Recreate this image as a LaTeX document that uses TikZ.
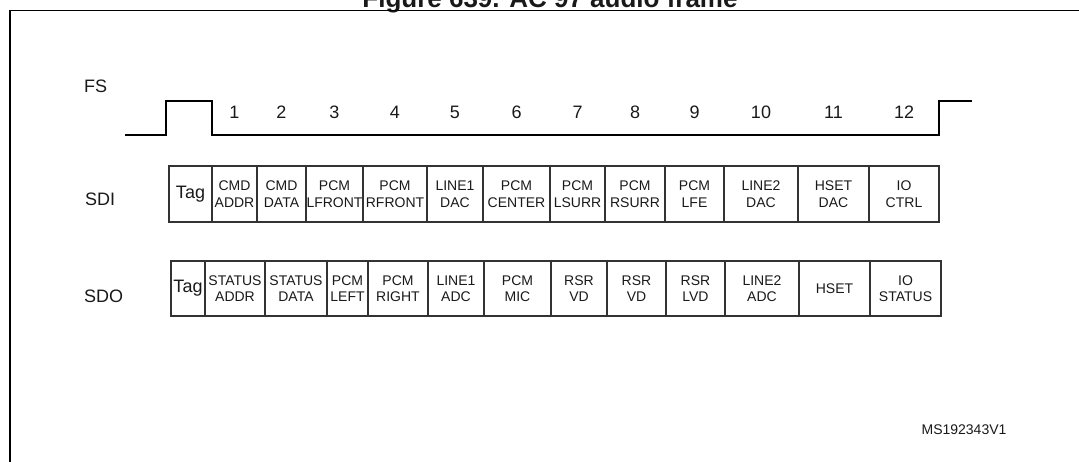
\documentclass[tikz,border=0pt]{standalone}
\usepackage{fontspec}
\setmainfont{Liberation Sans}
\usetikzlibrary{positioning}

\begin{document}
\begin{tikzpicture}[x=1pt,y=-1pt,node distance=0pt]

	\tikzstyle{every node}=[font=\fontsize{14}{16.5}\selectfont,text=black!90]
	\tikzstyle{slot}=[rectangle,draw=black!80,line width=1.2pt,minimum height=56pt,inner sep=0pt,outer sep=0pt,align=center]
	\tikzstyle{tag slot}=[slot,font=\fontsize{18}{20}\selectfont]
	\tikzstyle{signal}=[font=\fontsize{18}{20}\selectfont,anchor=west,inner sep=0pt]
	\tikzstyle{slot number}=[font=\fontsize{18}{20}\selectfont,inner sep=0pt]

	\useasboundingbox (0,0) rectangle (1079,461);

	% title and outer frame (cut by the page)
	\node[font=\bfseries\fontsize{26}{28}\selectfont,anchor=base,inner sep=0pt] (title) at (550,7.5) {Figure 639. AC'97 audio frame};
	\draw[line width=1.8pt] (10,480) |- (1100,10.5);

	% signal names
	\node[signal] (FS)  at (84,86)  {FS};
	\node[signal] (SDI) at (85,199) {SDI};
	\node[signal] (SDO) at (84,296) {SDO};

	% SDI slots
	\node[tag slot,minimum width=43pt,anchor=west] (i0) at (169,194) {Tag};
	\node[slot,minimum width=45pt,right=of i0]  (i1)  {CMD\\ADDR};
	\node[slot,minimum width=49pt,right=of i1]  (i2)  {CMD\\DATA};
	\node[slot,minimum width=57pt,right=of i2]  (i3)  {PCM\\LFRONT};
	\node[slot,minimum width=64pt,right=of i3]  (i4)  {PCM\\RFRONT};
	\node[slot,minimum width=56pt,right=of i4]  (i5)  {LINE1\\DAC};
	\node[slot,minimum width=67pt,right=of i5]  (i6)  {PCM\\CENTER};
	\node[slot,minimum width=55pt,right=of i6]  (i7)  {PCM\\LSURR};
	\node[slot,minimum width=60pt,right=of i7]  (i8)  {PCM\\RSURR};
	\node[slot,minimum width=59pt,right=of i8]  (i9)  {PCM\\LFE};
	\node[slot,minimum width=74pt,right=of i9]  (i10) {LINE2\\DAC};
	\node[slot,minimum width=71pt,right=of i10] (i11) {HSET\\DAC};
	\node[slot,minimum width=70pt,right=of i11] (i12) {IO\\CTRL};

	% SDO slots
	\node[tag slot,minimum width=34pt,minimum height=55pt,anchor=west] (o0) at (171,288.5) {Tag};
	\node[slot,minimum width=60pt,minimum height=55pt,right=of o0]  (o1)  {STATUS\\ADDR};
	\node[slot,minimum width=62pt,minimum height=55pt,right=of o1]  (o2)  {STATUS\\DATA};
	\node[slot,minimum width=41pt,minimum height=55pt,right=of o2]  (o3)  {PCM\\LEFT};
	\node[slot,minimum width=60pt,minimum height=55pt,right=of o3]  (o4)  {PCM\\RIGHT};
	\node[slot,minimum width=56pt,minimum height=55pt,right=of o4]  (o5)  {LINE1\\ADC};
	\node[slot,minimum width=67pt,minimum height=55pt,right=of o5]  (o6)  {PCM\\MIC};
	\node[slot,minimum width=56pt,minimum height=55pt,right=of o6]  (o7)  {RSR\\VD};
	\node[slot,minimum width=59pt,minimum height=55pt,right=of o7]  (o8)  {RSR\\VD};
	\node[slot,minimum width=59pt,minimum height=55pt,right=of o8]  (o9)  {RSR\\LVD};
	\node[slot,minimum width=74pt,minimum height=55pt,right=of o9]  (o10) {LINE2\\ADC};
	\node[slot,minimum width=71pt,minimum height=55pt,right=of o10] (o11) {HSET};
	\node[slot,minimum width=71pt,minimum height=55pt,right=of o11] (o12) {IO\\STATUS};

	% slot numbers over the SDI slots
	\foreach \n in {1,...,12}
		\node[slot number] (n\n) at (i\n |- 0,112) {\n};

	% frame sync
	\draw[line width=1.2pt] (125,135) -- (166,135) -- (166,101) -- (i1.west |- 0,101)
		-- (i1.west |- 0,135) -- (i12.east |- 0,135) -- (i12.east |- 0,101) -- (972,101);

	\node (ms) at (964,430) {MS192343V1};

\end{tikzpicture}
\end{document}
